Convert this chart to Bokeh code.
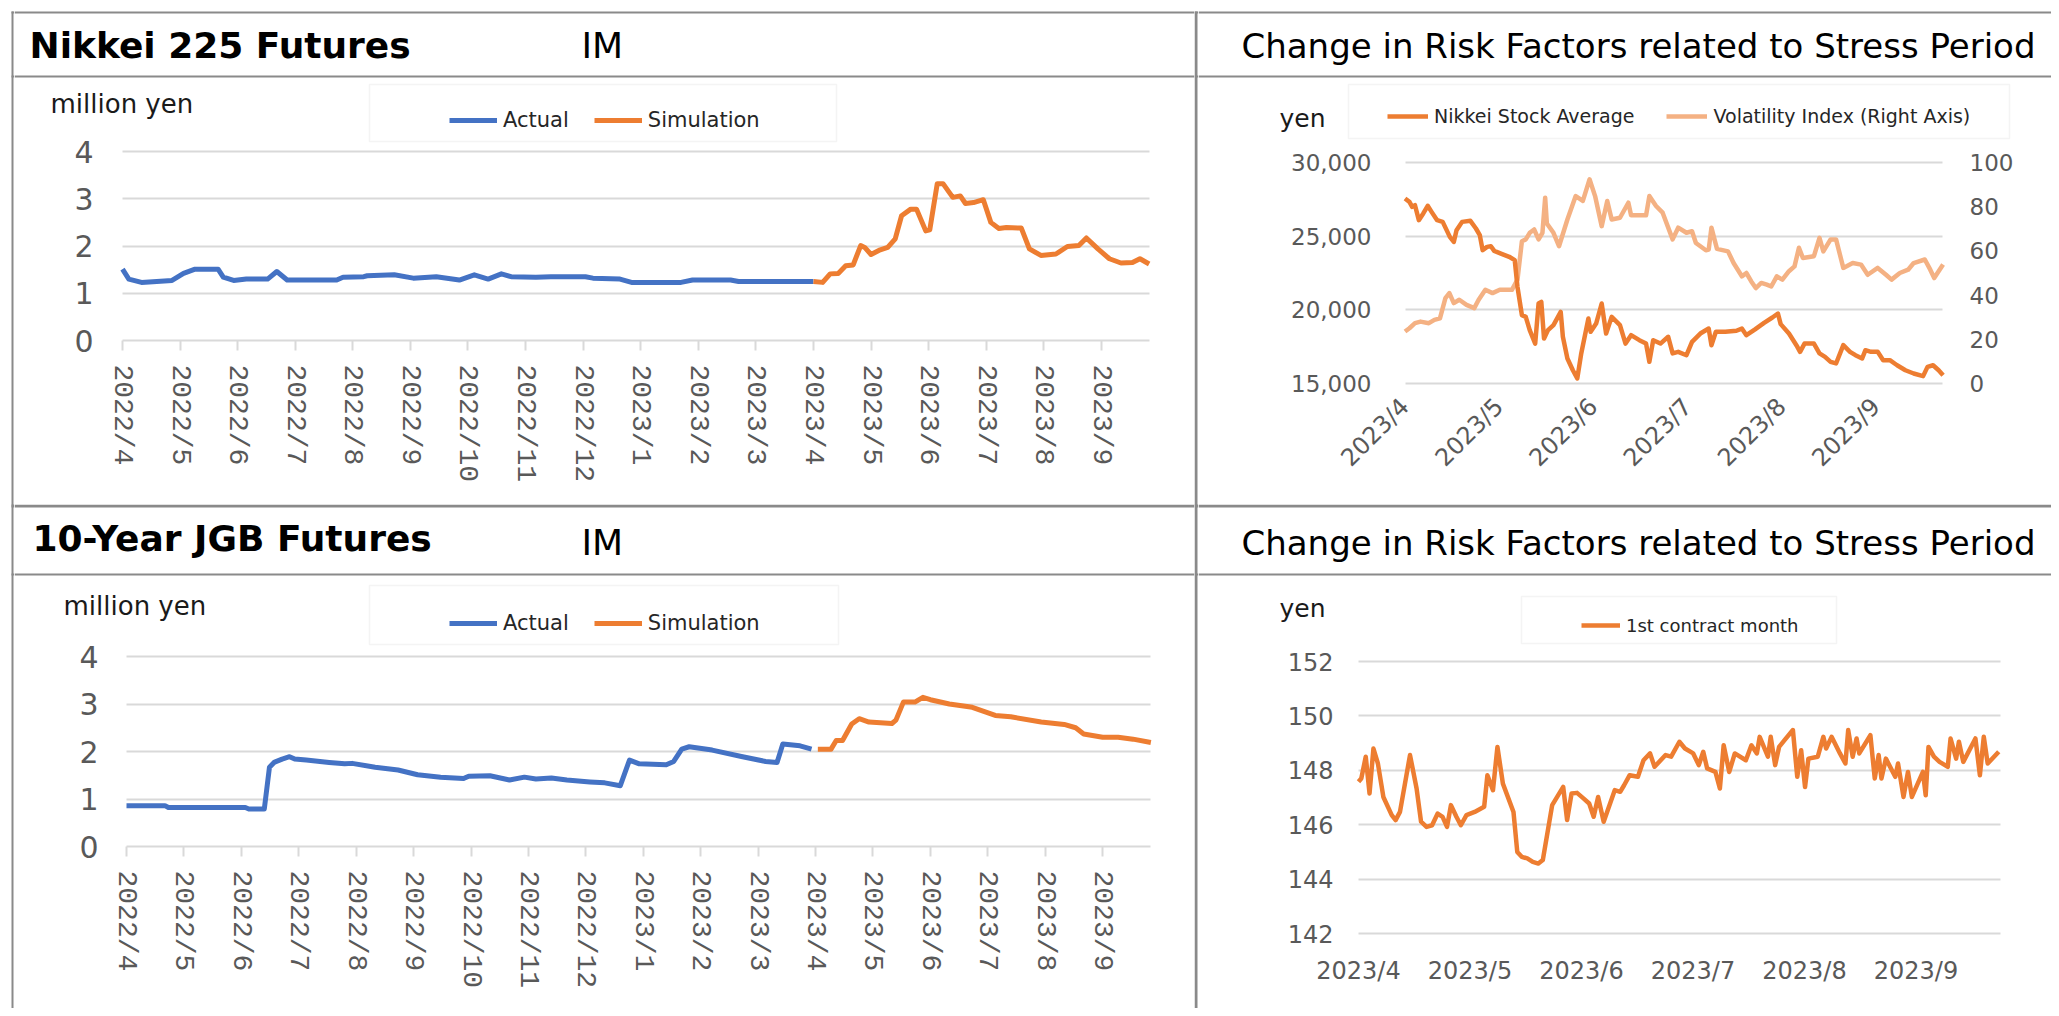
import math
from bokeh.plotting import figure
from bokeh.models import (Range1d, LinearAxis, FixedTicker, Label, Legend, LegendItem,
                          BoxAnnotation, NumeralTickFormatter, Spacer)
from bokeh.layouts import row, column
from bokeh.embed import file_html
from bokeh.resources import INLINE

# ------------------------------------------------------------------ data
# x values are months elapsed since the first tick of each chart
left_tick_labels = ["2022/4", "2022/5", "2022/6", "2022/7", "2022/8", "2022/9",
                    "2022/10", "2022/11", "2022/12", "2023/1", "2023/2", "2023/3",
                    "2023/4", "2023/5", "2023/6", "2023/7", "2023/8", "2023/9"]
right_tick_labels = ["2023/4", "2023/5", "2023/6", "2023/7", "2023/8", "2023/9"]

im_ticks = [0, 1, 2, 3, 4]
nikkei_ticks = [15000, 20000, 25000, 30000]
vol_ticks = [0, 20, 40, 60, 80, 100]
jgb_ticks = [142, 144, 146, 148, 150, 152]

# Nikkei 225 Futures IM (million yen)
nk_actual_m = [0.00, 0.11, 0.33, 0.86, 1.06, 1.26, 1.66, 1.75, 1.93, 2.15,
               2.52, 2.68, 2.86, 3.72, 3.83, 4.19, 4.25, 4.72, 5.05, 5.45,
               5.85, 6.11, 6.35, 6.58, 6.75, 7.18, 7.44, 8.04, 8.17, 8.64,
               8.84, 9.70, 9.90, 10.56, 10.70, 12.00]
nk_actual_im = [1.51, 1.30, 1.23, 1.27, 1.42, 1.51, 1.51, 1.34, 1.27, 1.30,
                1.30, 1.46, 1.28, 1.28, 1.34, 1.35, 1.37, 1.39, 1.32, 1.35,
                1.28, 1.39, 1.30, 1.41, 1.35, 1.34, 1.35, 1.35, 1.32, 1.30,
                1.23, 1.23, 1.28, 1.28, 1.25, 1.25]
nk_sim_m = [12.00, 12.16, 12.29, 12.43, 12.56, 12.69, 12.82, 12.89, 13.00, 13.16,
            13.29, 13.42, 13.53, 13.69, 13.79, 13.95, 14.02, 14.15, 14.25, 14.42,
            14.55, 14.64, 14.78, 14.95, 15.08, 15.22, 15.35, 15.61, 15.75, 15.95,
            16.21, 16.41, 16.61, 16.74, 16.94, 17.14, 17.34, 17.54, 17.67, 17.83]
nk_sim_im = [1.25, 1.23, 1.41, 1.42, 1.58, 1.60, 2.01, 1.97, 1.82, 1.92,
             1.97, 2.15, 2.64, 2.78, 2.78, 2.32, 2.34, 3.32, 3.32, 3.03,
             3.06, 2.90, 2.92, 2.98, 2.50, 2.37, 2.39, 2.38, 1.94, 1.80,
             1.83, 1.99, 2.01, 2.17, 1.94, 1.73, 1.64, 1.65, 1.73, 1.62]

# 10-Year JGB Futures IM (million yen)
jgb_actual_m = [0.00, 0.67, 0.73, 2.07, 2.13, 2.40, 2.49, 2.57, 2.71, 2.84,
                2.93, 3.13, 3.53, 3.80, 3.93, 4.33, 4.73, 5.07, 5.47, 5.87,
                5.96, 6.33, 6.67, 6.93, 7.13, 7.40, 7.67, 8.07, 8.33, 8.60,
                8.76, 8.93, 9.40, 9.53, 9.67, 9.80, 10.20, 10.73, 11.13, 11.33,
                11.43, 11.73, 11.93]
jgb_actual_im = [0.86, 0.86, 0.82, 0.82, 0.79, 0.79, 1.67, 1.77, 1.84, 1.89,
                 1.84, 1.82, 1.77, 1.74, 1.75, 1.67, 1.61, 1.51, 1.46, 1.43,
                 1.48, 1.49, 1.40, 1.46, 1.42, 1.44, 1.40, 1.36, 1.34, 1.28,
                 1.82, 1.74, 1.72, 1.79, 2.05, 2.10, 2.03, 1.89, 1.79, 1.77,
                 2.16, 2.12, 2.05]
jgb_sim_m = [12.04, 12.27, 12.36, 12.47, 12.63, 12.76, 12.93, 13.33, 13.40, 13.53,
             13.73, 13.87, 14.00, 14.33, 14.73, 15.13, 15.40, 15.93, 16.33, 16.53,
             16.67, 17.00, 17.27, 17.53, 17.84]
jgb_sim_im = [2.05, 2.05, 2.23, 2.23, 2.58, 2.69, 2.62, 2.59, 2.66, 3.04,
              3.04, 3.14, 3.09, 3.00, 2.93, 2.76, 2.73, 2.62, 2.57, 2.50,
              2.37, 2.30, 2.30, 2.26, 2.19]

# Nikkei Stock Average (yen) during stress period
nikkei_m = [0.000, 0.047, 0.076, 0.106, 0.147, 0.194, 0.241, 0.282, 0.341, 0.400,
            0.476, 0.518, 0.547, 0.606, 0.694, 0.753, 0.794, 0.824, 0.871, 0.912,
            0.947, 1.018, 1.106, 1.165, 1.194, 1.241, 1.282, 1.324, 1.382, 1.418,
            1.447, 1.476, 1.518, 1.576, 1.653, 1.676, 1.724, 1.782, 1.829, 1.871,
            1.947, 1.971, 2.029, 2.088, 2.135, 2.194, 2.282, 2.341, 2.400, 2.488,
            2.559, 2.594, 2.635, 2.712, 2.794, 2.841, 2.900, 2.988, 3.047, 3.135,
            3.224, 3.253, 3.300, 3.400, 3.518, 3.576, 3.624, 3.712, 3.812, 3.900,
            3.959, 3.988, 4.076, 4.165, 4.194, 4.241, 4.341, 4.400, 4.459, 4.518,
            4.576, 4.653, 4.724, 4.782, 4.853, 4.888, 4.947, 5.018, 5.076, 5.147,
            5.224, 5.312, 5.400, 5.500, 5.547, 5.606, 5.665, 5.712]
nikkei_avg = [27555, 27330, 26990, 27100, 26085, 26540, 27060, 26650, 26085, 25970,
              24950, 24610, 25400, 25970, 26040, 25520, 25070, 24050, 24275, 24320,
              24000, 23820, 23600, 23370, 21560, 19640, 19520, 18620, 17710, 20430,
              20540, 18050, 18620, 18960, 19860, 18170, 16700, 15900, 15340, 17040,
              19410, 18510, 19070, 20430, 18390, 19520, 18960, 17710, 18280, 17940,
              17710, 16470, 17940, 17710, 18170, 17040, 17150, 16920, 17830, 18390,
              18730, 17600, 18510, 18510, 18580, 18730, 18280, 18660, 19120, 19480,
              19750, 19030, 18390, 17490, 17150, 17710, 17710, 17040, 16810, 16470,
              16360, 17600, 17150, 16920, 16700, 17260, 17150, 17150, 16580, 16580,
              16240, 15900, 15680, 15500, 16130, 16240, 15900, 15560]

# Volatility Index (right axis)
vol_m = [0.000, 0.047, 0.106, 0.165, 0.253, 0.312, 0.371, 0.429, 0.471, 0.518,
         0.576, 0.653, 0.735, 0.782, 0.853, 0.929, 1.006, 1.135, 1.194, 1.241,
         1.282, 1.324, 1.371, 1.418, 1.459, 1.488, 1.506, 1.576, 1.635, 1.724,
         1.812, 1.888, 1.959, 2.018, 2.088, 2.147, 2.194, 2.282, 2.371, 2.400,
         2.559, 2.594, 2.665, 2.735, 2.841, 2.900, 2.988, 3.047, 3.088, 3.194,
         3.224, 3.253, 3.312, 3.429, 3.488, 3.576, 3.624, 3.676, 3.724, 3.782,
         3.841, 3.888, 3.947, 4.006, 4.076, 4.135, 4.182, 4.224, 4.341, 4.400,
         4.441, 4.518, 4.576, 4.653, 4.753, 4.841, 4.912, 5.018, 5.106, 5.165,
         5.253, 5.341, 5.400, 5.518, 5.576, 5.618, 5.712]
vol_index = [23.5, 25.0, 27.3, 28.0, 27.3, 28.8, 29.5, 38.6, 40.9, 36.4,
             37.9, 35.6, 34.1, 37.9, 42.4, 40.9, 42.4, 42.4, 47.0, 64.4,
             65.2, 68.2, 69.7, 65.2, 68.2, 84.1, 72.4, 68.2, 62.1, 74.2,
             84.8, 82.6, 92.4, 84.8, 71.2, 82.6, 74.2, 75.0, 81.8, 76.1,
             76.1, 84.8, 80.3, 77.3, 65.2, 70.5, 68.2, 68.9, 63.6, 60.3,
             60.6, 70.5, 60.9, 59.8, 54.5, 48.5, 50.0, 46.2, 43.2, 45.5,
             44.7, 43.9, 48.5, 47.0, 50.8, 53.0, 61.4, 56.8, 57.6, 65.9,
             59.8, 65.2, 65.2, 52.3, 54.5, 53.8, 49.2, 52.3, 49.2, 47.0,
             50.0, 51.5, 54.5, 56.1, 51.5, 47.7, 53.8]

# 10-Year JGB Futures, 1st contract month (yen)
jgbf_m = [0.000, 0.025, 0.065, 0.099, 0.134, 0.174, 0.223, 0.298, 0.333, 0.372,
          0.462, 0.521, 0.561, 0.610, 0.660, 0.710, 0.754, 0.794, 0.829, 0.878,
          0.918, 0.968, 1.042, 1.127, 1.156, 1.206, 1.246, 1.295, 1.390, 1.424,
          1.464, 1.514, 1.563, 1.613, 1.653, 1.737, 1.836, 1.871, 1.911, 1.960,
          2.020, 2.069, 2.109, 2.149, 2.199, 2.298, 2.347, 2.382, 2.432, 2.506,
          2.556, 2.615, 2.655, 2.754, 2.804, 2.878, 2.928, 3.002, 3.052, 3.092,
          3.127, 3.201, 3.241, 3.275, 3.325, 3.375, 3.474, 3.524, 3.573, 3.598,
          3.672, 3.697, 3.737, 3.772, 3.821, 3.896, 3.935, 3.970, 4.005, 4.035,
          4.119, 4.169, 4.194, 4.243, 4.318, 4.367, 4.392, 4.432, 4.467, 4.491,
          4.591, 4.630, 4.665, 4.690, 4.730, 4.814, 4.839, 4.888, 4.928, 4.963,
          5.062, 5.087, 5.112, 5.161, 5.211, 5.285, 5.310, 5.360, 5.385, 5.424,
          5.533, 5.573, 5.608, 5.643, 5.742]
jgbf_price = [147.58, 147.70, 148.50, 147.15, 148.80, 148.25, 147.02, 146.35, 146.17, 146.47,
              148.56, 147.33, 146.11, 145.92, 145.98, 146.41, 146.29, 145.92, 146.72, 146.29,
              145.98, 146.35, 146.47, 146.66, 147.82, 147.27, 148.86, 147.51, 146.47, 145.00,
              144.82, 144.76, 144.63, 144.57, 144.70, 146.72, 147.39, 146.17, 147.15, 147.17,
              146.96, 146.78, 146.29, 147.02, 146.11, 147.27, 147.21, 147.45, 147.82, 147.76,
              148.37, 148.62, 148.13, 148.56, 148.50, 149.05, 148.80, 148.62, 148.19, 148.68,
              148.07, 147.94, 147.33, 148.92, 147.94, 148.62, 148.37, 148.92, 148.62, 149.23,
              148.50, 149.23, 148.19, 148.86, 149.11, 149.48, 147.76, 148.74, 147.39, 148.43,
              148.50, 149.23, 148.80, 149.23, 148.62, 148.25, 149.48, 148.50, 149.17, 148.62,
              149.29, 147.70, 148.56, 147.70, 148.43, 147.76, 148.25, 147.02, 147.94, 147.02,
              147.94, 147.08, 148.86, 148.50, 148.31, 148.13, 149.17, 148.43, 149.05, 148.31,
              149.17, 147.82, 149.23, 148.25, 148.68]

# ------------------------------------------------------------------ style
BLUE = "#4472C4"
ORANGE = "#ED7D31"
LIGHT = "#F4B183"
GRID = "#d9d9d9"
TICK = "#595959"
BORDER = "#8a8a8a"
FONT = "DejaVu Sans"


class Panel:
    """A figure whose frame fills the whole canvas above its x axis."""

    def __init__(self, W, H, fb, x0px, xscale, yval, y0px, yscale, xend):
        self.xs = -x0px / xscale
        self.xscale = xscale
        self.ytop = yval + y0px / yscale
        self.yscale = yscale
        ybot = yval - (fb - y0px) / yscale
        self.fb = fb
        p = figure(width=W, height=H, x_range=Range1d(self.xs, (W - x0px) / xscale),
                   y_range=Range1d(ybot, self.ytop),
                   output_backend="svg", toolbar_location=None,
                   min_border_left=0, min_border_right=0, min_border_top=0,
                   min_border_bottom=H - fb)
        p.background_fill_color = "white"
        p.border_fill_color = "white"
        p.outline_line_color = None
        p.xgrid.visible = False
        p.ygrid.grid_line_color = GRID
        p.ygrid.grid_line_width = 2
        p.ygrid.cross_bounds = (0, xend)
        for ax in p.yaxis:
            ax.axis_line_color = None
            ax.major_tick_line_color = None
            ax.minor_tick_line_color = None
            ax.major_tick_in = 0
            ax.major_tick_out = 0
            ax.major_label_text_color = TICK
            ax.major_label_text_font = FONT
        self.p = p

    def X(self, px):
        return self.xs + px / self.xscale

    def Y(self, py):
        return self.ytop - py / self.yscale

    def rect(self, l, r, t, b, color=BORDER):
        self.p.add_layout(BoxAnnotation(left=self.X(l), right=self.X(r),
                                        top=self.Y(t), bottom=self.Y(b),
                                        fill_color=color, fill_alpha=1, line_color=None,
                                        level="overlay"))

    def outline(self, l, r, t, b):
        self.p.add_layout(BoxAnnotation(left=self.X(l), right=self.X(r),
                                        top=self.Y(t), bottom=self.Y(b),
                                        fill_alpha=0, line_color=GRID, line_width=1.5,
                                        level="overlay"))

    def text(self, px, py, s, size, bold=False, color="#000000"):
        self.p.add_layout(Label(x=self.X(px), y=self.Y(py), text=s,
                                text_font=FONT, text_font_size=f"{size}px",
                                text_font_style="bold" if bold else "normal",
                                text_color=color, text_baseline="middle",
                                text_align="left"))

    def legend(self, items, left_px, center_px, size, glyph_w, spacing, h):
        vy = self.fb - (center_px + h / 2)
        leg = Legend(items=[LegendItem(label=lab, renderers=[r]) for lab, r in items],
                     orientation="horizontal", location=(left_px, vy),
                     label_text_font=FONT, label_text_font_size=f"{size}px",
                     label_text_color="#262626", glyph_width=glyph_w, glyph_height=h,
                     label_standoff=6, spacing=spacing, padding=0, margin=0,
                     label_height=h, border_line_color=None, background_fill_alpha=0)
        self.p.add_layout(leg)


def style_month_axis(ax, labels, xend):
    ax.ticker = FixedTicker(ticks=list(range(len(labels))))
    ax.major_label_overrides = {i: lab for i, lab in enumerate(labels)}
    ax.major_label_text_color = TICK
    ax.minor_tick_line_color = None
    ax.bounds = (0, xend)


def im_axis(ax, labels, xend):
    style_month_axis(ax, labels, xend)
    ax.major_label_orientation = "vertical"
    ax.major_label_text_font = "Liberation Mono"
    ax.major_label_text_font_size = "28px"
    ax.axis_line_color = GRID
    ax.axis_line_width = 2
    ax.major_tick_line_color = GRID
    ax.major_tick_line_width = 2
    ax.major_tick_in = 0
    ax.major_tick_out = 10
    ax.major_label_standoff = 14


W_L, W_R, H_T, H_B = 1180, 853, 496, 504

# ------------------------------------------------------------------ top-left
TL = Panel(W_L, H_T, 332, 108, 57.58, 0, 332, 47.25, 17.836)
tl = TL.p
tl.yaxis.ticker = FixedTicker(ticks=im_ticks)
tl.yaxis.major_label_text_font_size = "30px"
tl.yaxis.major_label_standoff = -79
im_axis(tl.xaxis[0], left_tick_labels, 17.836)
r1 = tl.line(nk_actual_m, nk_actual_im, line_color=BLUE, line_width=5, line_join="round")
r2 = tl.line(nk_sim_m, nk_sim_im, line_color=ORANGE, line_width=5, line_join="round")
TL.outline(355, 822, 76, 133)
TL.legend([("Actual", r1), ("Simulation", r2)], 435, 112, 21, 48, 25, 28)
TL.text(15, 37, "Nikkei 225 Futures", 36, bold=True)
TL.text(567, 37, "IM", 36)
TL.text(36, 95, "million yen", 26, color="#1a1a1a")
TL.rect(0, W_L, 3, 5)
TL.rect(0, W_L, 67, 69)

# ------------------------------------------------------------------ top-right
TR = Panel(W_R, H_T, 378, 206.5, 94.2, 15000, 375, 221 / 15000, 5.71)
tr = TR.p
vs = 221 / 100
tr.extra_y_ranges = {"vol": Range1d(-3 / vs, 375 / vs)}
tr.yaxis.ticker = FixedTicker(ticks=nikkei_ticks)
tr.yaxis.formatter = NumeralTickFormatter(format="0,0")
tr.yaxis.major_label_text_font_size = "23px"
tr.yaxis.major_label_standoff = -173
rax = LinearAxis(y_range_name="vol", ticker=FixedTicker(ticks=vol_ticks),
                 axis_line_color=None, major_tick_line_color=None, minor_tick_line_color=None,
                 major_tick_in=0, major_tick_out=0,
                 major_label_text_color=TICK, major_label_text_font=FONT,
                 major_label_text_font_size="23px", major_label_standoff=-82)
tr.add_layout(rax, "right")
ax = tr.xaxis[0]
style_month_axis(ax, right_tick_labels, 5.71)
ax.major_label_orientation = math.pi / 4
ax.major_label_text_font = FONT
ax.major_label_text_font_size = "24px"
ax.axis_line_color = None
ax.major_tick_line_color = None
ax.major_tick_in = 0
ax.major_tick_out = 0
ax.major_label_standoff = 16
rv = tr.line(vol_m, vol_index, y_range_name="vol", line_color=LIGHT, line_width=4.5, line_join="round")
rn = tr.line(nikkei_m, nikkei_avg, line_color=ORANGE, line_width=4.5, line_join="round")
TR.outline(150, 811, 76, 130)
TR.legend([("Nikkei Stock Average", rn), ("Volatility Index (Right Axis)", rv)], 189, 108, 19, 41, 32, 24)
TR.text(43, 37, "Change in Risk Factors related to Stress Period", 34)
TR.text(81, 110, "yen", 25, color="#1a1a1a")
TR.rect(0, W_R, 3, 5)
TR.rect(0, W_R, 67, 69)

# ------------------------------------------------------------------ bottom-left
BL = Panel(W_L, H_B, 342, 112, 57.42, 0, 342, 47.5, 17.83)
bl = BL.p
bl.yaxis.ticker = FixedTicker(ticks=im_ticks)
bl.yaxis.major_label_text_font_size = "30px"
bl.yaxis.major_label_standoff = -84
im_axis(bl.xaxis[0], left_tick_labels, 17.83)
r3 = bl.line(jgb_actual_m, jgb_actual_im, line_color=BLUE, line_width=5, line_join="round")
r4 = bl.line(jgb_sim_m, jgb_sim_im, line_color=ORANGE, line_width=5, line_join="round")
BL.outline(355, 824, 81, 140)
BL.legend([("Actual", r3), ("Simulation", r4)], 435, 119, 21, 48, 25, 28)
BL.text(18, 34, "10-Year JGB Futures", 36, bold=True)
BL.text(567, 38, "IM", 36)
BL.text(49, 101, "million yen", 26, color="#1a1a1a")
BL.rect(0, W_L, 0, 3)
BL.rect(0, W_L, 69, 71)

# ------------------------------------------------------------------ bottom-right
BR = Panel(W_R, H_B, 432, 160, 111.5, 142, 429, 27.2, 5.758)
br = BR.p
br.yaxis.ticker = FixedTicker(ticks=jgb_ticks)
br.yaxis.major_label_text_font_size = "24px"
br.yaxis.major_label_standoff = -135
ax = br.xaxis[0]
style_month_axis(ax, right_tick_labels, 5.758)
ax.major_label_orientation = "horizontal"
ax.major_label_text_font = FONT
ax.major_label_text_font_size = "24px"
ax.axis_line_color = None
ax.major_tick_line_color = None
ax.major_tick_in = 0
ax.major_tick_out = 0
ax.major_label_standoff = 20
r5 = br.line(jgbf_m, jgbf_price, line_color=ORANGE, line_width=4.5, line_join="round")
BR.outline(323, 638, 92, 139)
BR.legend([("1st contract month", r5)], 383, 121, 18, 39, 20, 24)
BR.text(43, 38, "Change in Risk Factors related to Stress Period", 34)
BR.text(81, 104, "yen", 25, color="#1a1a1a")
BR.rect(0, W_R, 0, 3)
BR.rect(0, W_R, 69, 71)


# ------------------------------------------------------------------ border strips
def strip(w, vx0, vx1):
    s = figure(width=w, height=H_T + H_B, x_range=Range1d(0, w), y_range=Range1d(H_T + H_B, 0),
               output_backend="svg", toolbar_location=None,
               x_axis_location=None, y_axis_location=None,
               min_border_left=0, min_border_right=0, min_border_top=0, min_border_bottom=0)
    s.grid.visible = False
    s.outline_line_color = None
    s.background_fill_color = "white"
    s.border_fill_color = "white"
    hx0 = vx0 if vx0 > 0 else 0
    bands = [(vx0, vx1, 3, H_T + H_B), (hx0, w, 3, 5), (hx0, w, 67, 69),
             (hx0, w, H_T, H_T + 3), (hx0, w, H_T + 69, H_T + 71)]
    for l, r, t, b in bands:
        s.add_layout(BoxAnnotation(left=l, right=r, top=t, bottom=b, fill_color=BORDER,
                                   fill_alpha=1, line_color=None, level="overlay"))
    return s


left_strip = strip(6, 3, 5)
mid_strip = strip(4, 0, 3)

body = row(left_strip, column(tl, bl), mid_strip, column(tr, br))
layout = column(Spacer(height=8), row(Spacer(width=8), body))
open("out.html", "w").write(file_html(layout, INLINE))
